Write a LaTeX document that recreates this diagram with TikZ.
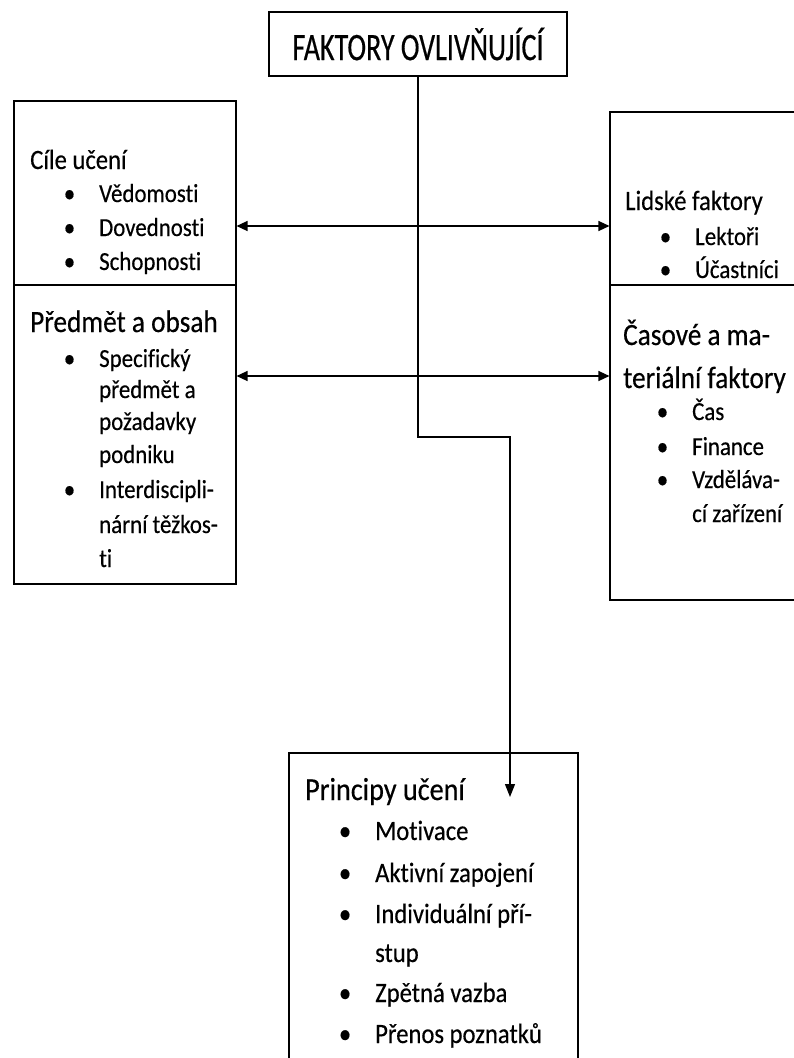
\documentclass[tikz,border=0pt]{standalone}
\usepackage{fontspec}
\setmainfont{Carlito}
\newfontfamily\ftop[FakeStretch=0.72,FakeBold=0.4,Ligatures={NoCommon,NoContextual}]{Carlito}
\newfontfamily\fmain[FakeStretch=0.88,FakeBold=0.4,Ligatures={NoCommon,NoContextual}]{Carlito}
\usetikzlibrary{arrows.meta}
\newcommand{\bul}{\llap{\textbullet\hspace{24pt}}}
\begin{document}
\begin{tikzpicture}[x=1pt,y=-1pt,
  box/.style={draw, line width=1.1pt, rectangle, inner sep=0pt},
  conn/.style={line width=1.3pt},
  tipA/.style={-{Triangle[length=13pt,width=10pt]}},
  tipB/.style={{Triangle[length=11pt,width=10pt]}-{Triangle[length=11pt,width=10pt]}},
  txt/.style={anchor=base west, inner sep=0pt},
  sm/.style={txt, font=\fmain\fontsize{26}{30}\selectfont},
  md/.style={txt, font=\fmain\fontsize{28}{33}\selectfont},
  lg/.style={txt, font=\fmain\fontsize{31}{36}\selectfont},
  bsm/.style={txt, font=\fmain\fontsize{28}{33}\selectfont},
  blg/.style={txt, font=\fmain\fontsize{32}{38}\selectfont}]
\useasboundingbox (0,0) rectangle (794,1058);
\fill[white] (0,0) rectangle (794,1058);
\clip (0,0) rectangle (794,1058);

% boxes
\node[box, minimum width=298pt, minimum height=64pt, font=\ftop\fontsize{39}{44}\selectfont] (top) at (418,44) {FAKTORY OVLIVŇUJÍCÍ};
\node[box, minimum width=222pt, minimum height=184pt] (L1) at (125,193) {};
\node[box, minimum width=222pt, minimum height=299pt] (L2) at (125,434.5) {};
\node[box, minimum width=200pt, minimum height=173pt] (R1) at (710,198.5) {};
\node[box, minimum width=200pt, minimum height=315pt] (R2) at (710,442.5) {};
\node[box, minimum width=289pt, minimum height=322pt] (B) at (433.5,914) {};

% left box 1
\node[md] (l1t) at (30,169) {Cíle učení};
\node[sm] (l1a) at (99,202) {\bul Vědomosti};
\node[sm] (l1b) at (99,236) {\bul Dovednosti};
\node[sm] (l1c) at (99,270) {\bul Schopnosti};

% left box 2
\node[lg] (l2t) at (30,332) {Předmět a obsah};
\node[sm] (l2a) at (99,367) {\bul Specifický};
\node[sm] (l2b) at (99,398) {předmět a};
\node[sm] (l2c) at (99,430) {požadavky};
\node[sm] (l2d) at (99,463) {podniku};
\node[sm] (l2e) at (99,498) {\bul Interdiscipli-};
\node[sm] (l2f) at (99,533) {nární těžkos-};
\node[sm] (l2g) at (99,567) {ti};

% right box 1
\node[md] (r1t) at (625,210) {Lidské faktory};
\node[sm] (r1a) at (695,245) {\bul Lektoři};
\node[sm] (r1b) at (695,278) {\bul Účastníci};

% right box 2
\node[lg] (r2t) at (623,345) {Časové a ma-};
\node[lg] (r2u) at (623,388) {teriální faktory};
\node[sm] (r2a) at (692,420) {\bul Čas};
\node[sm] (r2b) at (692,455) {\bul Finance};
\node[sm] (r2c) at (692,488) {\bul Vzděláva-};
\node[sm] (r2d) at (692,522) {cí zařízení};

% bottom box
\node[blg] (bt) at (305,800) {Principy učení};
\node[bsm] (ba) at (375,840) {\bul Motivace};
\node[bsm] (bb) at (375,882) {\bul Aktivní zapojení};
\node[bsm] (bc) at (375,923) {\bul Individuální pří-};
\node[bsm] (bd) at (375,962) {stup};
\node[bsm] (be) at (375,1002) {\bul Zpětná vazba};
\node[bsm] (bf) at (375,1043) {\bul Přenos poznatků};

% connectors
\coordinate (y1) at (0,226);
\coordinate (y2) at (0,376);
\coordinate (bend) at (510,437);
\coordinate (tipP) at (510,797);
\draw[conn, tipB] (L1.east |- y1) -- (R1.west |- y1);
\draw[conn, tipB] (L2.east |- y2) -- (R2.west |- y2);
\draw[conn, tipA] (top.south) |- (bend) -- (tipP);
\end{tikzpicture}
\end{document}
